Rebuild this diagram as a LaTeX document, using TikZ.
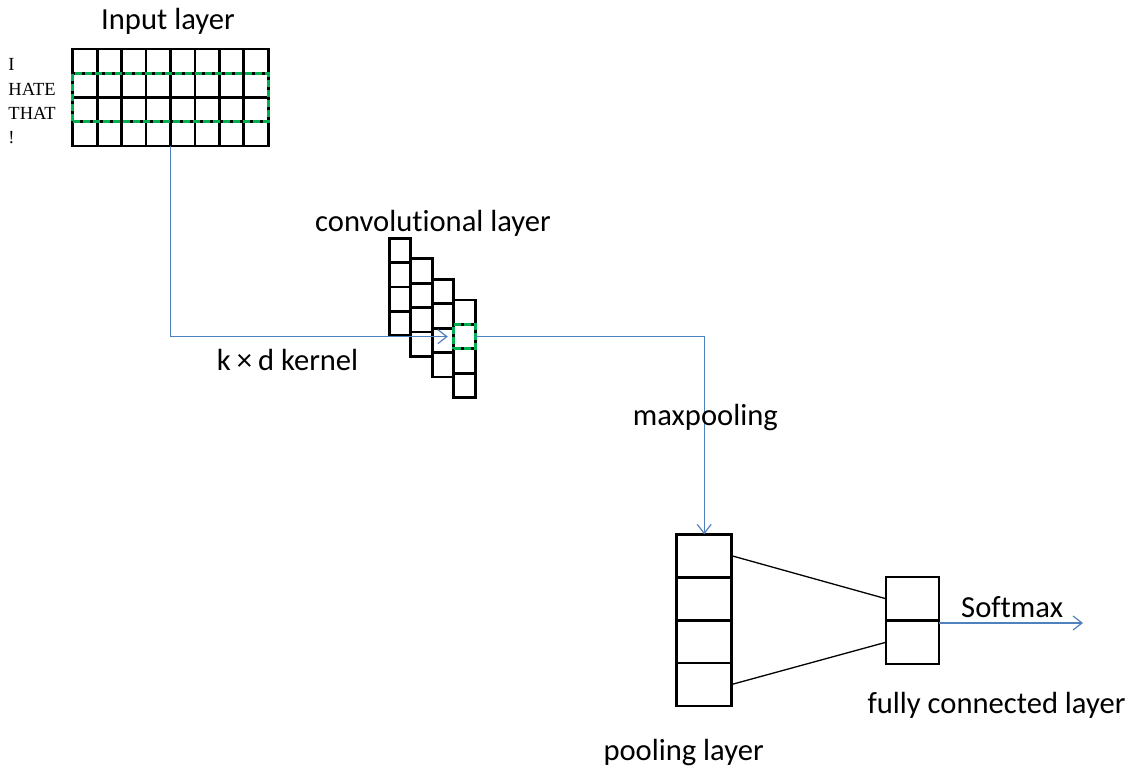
\documentclass[tikz,border=0pt]{standalone}
\usepackage{fontspec}
\setmainfont{Carlito}[Ligatures=NoCommon]
\newfontfamily\wordfont{Liberation Serif}
\usetikzlibrary{arrows.meta,fit}
\definecolor{flowblue}{RGB}{79,129,189}
\definecolor{kgreen}{RGB}{0,176,80}

\tikzset{
  gridcell/.style n args={2}{draw=black,line width=2.8pt,rectangle,inner sep=0pt,outer sep=0pt,
    minimum width=#1,minimum height=#2},
  incell/.style={gridcell={24.45pt}{24.25pt}},
  convcell/.style={gridcell={21.5pt}{24.35pt}},
  poolcell/.style={gridcell={55pt}{42.9pt}},
  fccell/.style={gridcell={53pt}{43.5pt}},
  kernelbox/.style={draw=kgreen,line width=2.8pt,dash pattern=on 7pt off 3pt,rectangle,
    inner sep=0pt,outer sep=0pt},
  flow/.style={draw=flowblue,line width=1.3pt,-{Straight Barb[length=9pt,width=14pt,line width=1.2pt]}},
  link/.style={draw=black,line width=1.3pt},
  label/.style={anchor=base west,inner sep=0pt,font=\fontsize{30.6}{36}\selectfont},
  word/.style={anchor=base west,inner sep=0pt,font=\wordfont\fontsize{18.5}{22}\selectfont}
}

\begin{document}
\begin{tikzpicture}[x=1pt,y=-1pt]
\useasboundingbox (0,0) rectangle (1130,767);

% input layer: 4 words x 8 embedding dimensions
\foreach \r in {1,...,4}
  \foreach \c in {1,...,8}
    \node[incell] (in-\r-\c) at ({72.7+24.45*(\c-0.5)},{49+24.25*(\r-0.5)}) {};
\node[kernelbox,fit=(in-2-1)(in-3-8)] (band) {};

\node[word] (w1) at (8.3,70.7) {I};
\node[word] (w2) at (8.3,95.7) {HATE};
\node[word] (w3) at (8.3,120) {THAT};
\node[word] (w4) at (8.3,144) {!};

\node[label] (tin) at (101,29.3) {Input layer};

% convolutional layer: four staggered feature maps
\foreach \c in {1,...,4}
  \foreach \r in {1,...,4}
    \node[convcell] (conv-\c-\r) at ({389.3+21.5*(\c-1)+10.75},{238.3+20.6*(\c-1)+24.35*(\r-0.5)}) {};

\node[label] (tconv) at (315,231.7) {convolutional layer};
\node[label] (tkernel) at (216.7,370.7) {k\hspace{6pt}×\hspace{6pt}d kernel};

% pooling layer
\foreach \r in {1,...,4}
  \node[poolcell] (pool-\r) at (704.2,{534.3+42.9*(\r-0.5)}) {};
\node[label] (tpool) at (603.3,760) {pooling layer};

% fully connected layer
\foreach \r in {1,2}
  \node[fccell] (fc-\r) at (912.5,{577+43.5*(\r-0.5)}) {};
\node[label] (tfc) at (867.3,713) {fully connected layer};

% flow of data
\node[kernelbox,convcell,draw=kgreen] (k) at (conv-4-2) {};
\draw[flow,shorten >=6pt] (in-4-4.south east) |- (k.west);
\draw[flow] (k.east) -| (pool-1.north);
\node[label] (tmax) at (632.7,425) {maxpooling};

\draw[link] (pool-1.east) -- (fc-1.west);
\draw[link] (pool-4.east) -- (fc-2.west);

\coordinate (out) at (1083,623);
\draw[flow] (fc-1.south east |- out) -- (out);
\node[label] (tsoft) at (961,617.7) {Softmax};
\end{tikzpicture}
\end{document}
